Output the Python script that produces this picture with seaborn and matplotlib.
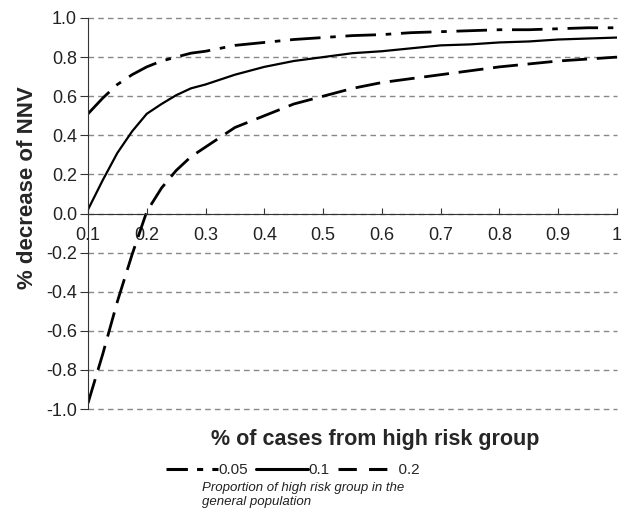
import pandas as pd
import numpy as np
import seaborn as sns
from matplotlib import pyplot as plt
from matplotlib.lines import Line2D

sns.set_style('white')
plt.rcParams['font.family'] = ['Liberation Sans', 'DejaVu Sans']

# values
x_vals = [0.1, 0.125, 0.15, 0.175, 0.2, 0.225, 0.25, 0.275, 0.3, 0.35,
          0.4, 0.45, 0.5, 0.55, 0.6, 0.65, 0.7, 0.75, 0.8, 0.85,
          0.9, 0.95, 1.0]
p005 = [0.51, 0.59, 0.66, 0.71, 0.75, 0.78, 0.80, 0.82, 0.83, 0.86,
        0.875, 0.89, 0.90, 0.91, 0.915, 0.925, 0.93, 0.935, 0.94, 0.94,
        0.945, 0.95, 0.95]
p01 = [0.02, 0.17, 0.31, 0.42, 0.51, 0.56, 0.605, 0.64, 0.66, 0.71,
       0.75, 0.78, 0.80, 0.82, 0.83, 0.845, 0.86, 0.865, 0.875, 0.88,
       0.89, 0.895, 0.90]
p02 = [-0.97, -0.72, -0.45, -0.21, 0.01, 0.13, 0.22, 0.29, 0.34, 0.44,
       0.50, 0.56, 0.60, 0.64, 0.67, 0.69, 0.71, 0.73, 0.75, 0.765,
       0.78, 0.79, 0.80]
groups = ['0.05', '0.1', '0.2']

data = pd.concat([
    pd.DataFrame({'x': x_vals, 'y': vals, 'Group': g})
    for g, vals in zip(groups, [p005, p01, p02])
])

fig = plt.figure(figsize=(6.29, 5.13), dpi=100)
ax = fig.add_axes([88/629, 1-409/513, (617-88)/629, (409-18)/513])

dashes = {'0.05': (11, 3.5, 2, 3.5), '0.1': '', '0.2': (9, 3.5)}
sns.lineplot(data=data, x='x', y='y', style='Group', dashes=dashes,
             color='black', estimator=None, ax=ax, legend=False)
for line, lw in zip(ax.lines, [2.0, 1.6, 2.0]):
    line.set_linewidth(lw)
    line.set_solid_joinstyle('round')
    line.set_dash_joinstyle('round')

ax.set_xlim(0.1, 1)
ax.set_ylim(-1, 1)
ax.set_xticks(np.arange(1, 11) / 10)
ax.set_xticklabels(['0.1', '0.2', '0.3', '0.4', '0.5', '0.6', '0.7',
                    '0.8', '0.9', '1'])
ax.set_yticks(np.arange(-5, 6) * 0.2)
ax.set_yticklabels(['%.1f' % v for v in np.arange(-5, 6) * 0.2])
ax.yaxis.grid(True, color='#888888', linestyle=(0, (4, 3)), linewidth=1)
for gl in ax.get_ygridlines():
    gl.set_clip_on(False)
ax.set_axisbelow(True)

ax.spines['top'].set_visible(False)
ax.spines['right'].set_visible(False)
ax.spines['bottom'].set_position(('data', 0))
ax.spines['bottom'].set_color('#333333')
ax.spines['left'].set_color('#333333')
ax.tick_params(axis='x', direction='in', length=4, pad=10, labelsize=13,
               color='#333333', labelcolor='#222222', bottom=True)
ax.tick_params(axis='y', direction='out', length=6, pad=2, labelsize=13,
               color='#333333', labelcolor='#222222', left=True)
ax.set_xlabel('')
ax.set_ylabel('% decrease of NNV', fontsize=16, fontweight='bold')
ax.yaxis.set_label_coords(-0.094, 0.565)

fig.text(375/629, 1-440/513, '% of cases from high risk group',
         ha='center', va='center', fontsize=15.5, fontweight='bold')

handles = [
    Line2D([], [], color='black', lw=2.2, linestyle=(0, (7, 3, 2, 3))),
    Line2D([], [], color='black', lw=2.2),
    Line2D([], [], color='black', lw=2.2, linestyle=(0, (6, 4))),
]
fig.legend(handles=handles, labels=['0.05', '0.1', '  0.2'], loc='center',
           bbox_to_anchor=(293/629, 1-470/513), ncol=3, frameon=False,
           handlelength=3.4, handletextpad=0.05, columnspacing=0.5,
           fontsize=11)
fig.text(202/629, 1-495/513, 'Proportion of high risk group in the\ngeneral population',
         ha='left', va='center', fontsize=9.5, style='italic', linespacing=1.15,
         color='#222222')

plt.savefig('out.png', dpi=100)
